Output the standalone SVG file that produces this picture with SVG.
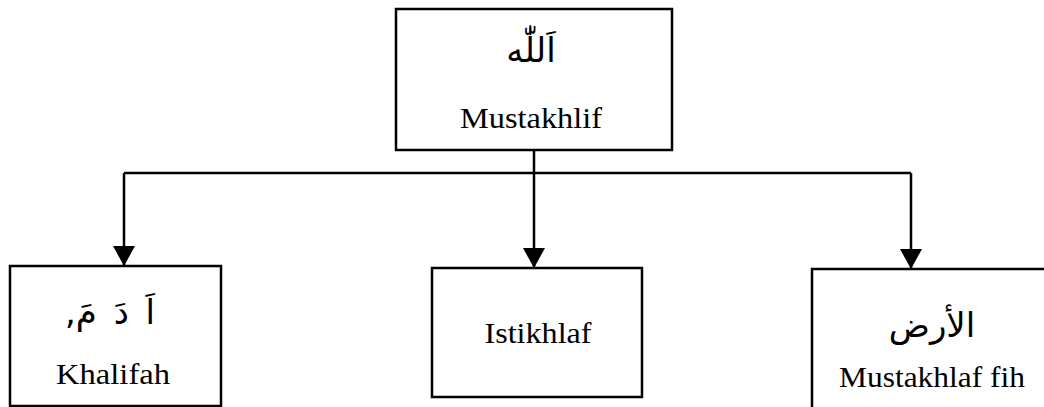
<svg xmlns="http://www.w3.org/2000/svg" width="1044" height="407" viewBox="0 0 1044 407">
<style>
.box{fill:#fff;stroke:#000;stroke-width:2.5}
.lat{font-family:"Liberation Serif","Times New Roman",serif;font-size:29px;fill:#000;text-anchor:middle}
.ar{font-family:"DejaVu Sans","Noto Sans",sans-serif;font-size:34px;fill:#000;text-anchor:middle}
.con{fill:none;stroke:#000;stroke-width:2.5}
</style>
<defs>
<marker id="arr" markerUnits="userSpaceOnUse" markerWidth="22" markerHeight="24" viewBox="-21 -12 22 24" refX="0" refY="0" orient="auto">
<path d="M0,0 L-20,-11 L-20,11 Z" fill="#000"/>
</marker>
</defs>
<rect width="1044" height="407" fill="#fff"/>
<g id="connectors">
<path class="con" d="M534 150 V173"/>
<path class="con" d="M124 173 H911"/>
<path class="con" d="M124 173 V266" marker-end="url(#arr)"/>
<path class="con" d="M534 173 V268" marker-end="url(#arr)"/>
<path class="con" d="M911 173 V269" marker-end="url(#arr)"/>
</g>
<g id="node-mustakhlif">
<rect class="box" x="396" y="9" width="276" height="141"/>
<text class="ar" x="531" y="62" direction="rtl">اَللّٰه</text>
<text class="lat" x="531" y="128" textLength="142" lengthAdjust="spacingAndGlyphs">Mustakhlif</text>
</g>
<g id="node-khalifah">
<rect class="box" x="10" y="266" width="211" height="140"/>
<text class="ar" x="110" y="324" direction="rtl" word-spacing="6">اَ دَ مَ,</text>
<text class="lat" x="113" y="384" textLength="114" lengthAdjust="spacingAndGlyphs">Khalifah</text>
</g>
<g id="node-istikhlaf">
<rect class="box" x="432" y="268" width="210" height="129"/>
<text class="lat" x="538" y="343" textLength="107" lengthAdjust="spacingAndGlyphs">Istikhlaf</text>
</g>
<g id="node-mustakhlaf-fih">
<rect class="box" x="812" y="269" width="240" height="150"/>
<text class="ar" x="932" y="337" direction="rtl">الأرض</text>
<text class="lat" x="932" y="387" textLength="186" lengthAdjust="spacingAndGlyphs">Mustakhlaf fih</text>
</g>
</svg>
